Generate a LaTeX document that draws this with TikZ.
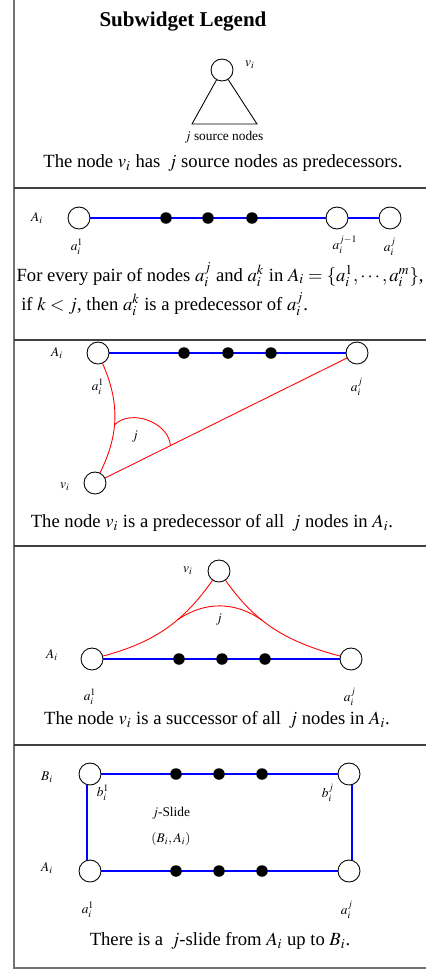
\documentclass[tikz,border=0pt]{standalone}
\usepackage{mathptmx}
\usepackage[no-math]{fontspec}
\setmainfont{Liberation Serif}
\tikzset{
  every picture/.style={x=0.02cm, y=0.02cm},
  vtx/.style={circle, draw, fill=white, line width=0.5pt, minimum size=0.44cm, inner sep=0pt},
  blackdot/.style={circle, fill=black, minimum size=0.23cm, inner sep=0pt},
  bluelink/.style={draw=blue, line width=1.1pt},
  predlink/.style={draw=red, line width=0.5pt},
  lbl/.style={font=\fontsize{7.6}{9}\selectfont, inner sep=1pt},
  caption/.style={font=\fontsize{10.6}{12.7}\selectfont, inner sep=1pt},
  sepline/.style={draw=black!75, line width=0.6pt},
}
\begin{document}
\begin{tikzpicture}
  \useasboundingbox (0,0) rectangle (426,-970);
  % frame
  \draw[sepline, draw=black!55] (14,0) -- (14,-968) -- (426,-968);
  \foreach \y in {188,340,546,745} \draw[sepline] (14,-\y) -- (426,-\y);
  % legend: source nodes
  \node[font=\large\bfseries] (title) at (183,-22) {Subwidget Legend};
  \node[vtx] (v0) at (222,-70) {};
  \node[lbl] (v0lbl) at (250,-65) {$v_i$};
  \coordinate (tl) at (192,-124); \coordinate (tr) at (257,-124);
  \draw[line width=0.5pt] (v0) -- (tl) -- (tr) -- (v0);
  \node[lbl] (src) at (224,-137) {$j$ source nodes};
  \node[caption] (cap1) at (223,-163) {The node $v_i$ has \,$j$ source nodes as predecessors.};
  % chain A_i
  \node[lbl] (A1) at (37,-218) {$A_i$};
  \node[vtx] (a1) at (79,-218) {};
  \node[vtx] (ajm) at (337,-218) {};
  \node[vtx] (aj) at (390,-218) {};
  \draw[bluelink] (a1) -- (ajm); \draw[bluelink] (ajm) -- (aj);
  \foreach \x in {166,208,252} \node[blackdot] (d\x) at (\x,-218) {};
  \node[lbl] (a1lbl) at (77,-247) {$a_i^1$};
  \node[lbl] (ajmlbl) at (345,-245) {$a_i^{j-1}$};
  \node[lbl] (ajlbl) at (390,-247) {$a_i^j$};
  \node[caption, anchor=west, align=left] (cap2) at (14.5,-289.5)
    {For every pair of nodes $a_i^j$ and $a_i^k$ in $A_i=\{a_i^1,\cdots,a_i^m\}$,\\[2pt]
     \ if $k<j$, then $a_i^k$ is a predecessor of $a_i^j$.};
  % v_i before A_i
  \node[lbl] (A2) at (57,-353) {$A_i$};
  \node[vtx] (b1) at (98,-353) {};
  \node[vtx] (bj) at (357,-353) {};
  \draw[bluelink] (b1) -- (bj);
  \foreach \x in {184,228,271} \node[blackdot] (e\x) at (\x,-353) {};
  \node[lbl] (b1lbl) at (98,-387) {$a_i^1$};
  \node[lbl] (bjlbl) at (357,-387) {$a_i^j$};
  \node[vtx] (v1) at (95,-483) {};
  \node[lbl] (v1lbl) at (65,-487) {$v_i$};
  \draw[predlink] (b1) to[bend left=25] coordinate[pos=0.56] (p1) (v1);
  \draw[predlink] (v1) -- coordinate[pos=0.27] (q1) (bj);
  \draw[predlink] (p1) to[bend left=65] (q1);
  \node[lbl] (j1) at (135,-437) {$j$};
  \node[caption] (cap3) at (212,-523) {The node $v_i$ is a predecessor of all \,$j$ nodes in $A_i$.};
  % v_i after A_i
  \node[vtx] (v2) at (219,-571) {};
  \node[lbl] (v2lbl) at (188,-571) {$v_i$};
  \node[lbl] (A3) at (52,-655) {$A_i$};
  \node[vtx] (c1) at (92,-659) {};
  \node[vtx] (cj) at (351,-659) {};
  \draw[bluelink] (c1) -- (cj);
  \foreach \x in {179,222,265} \node[blackdot] (f\x) at (\x,-659) {};
  \node[lbl] (c1lbl) at (90,-697) {$a_i^1$};
  \node[lbl] (cjlbl) at (350,-697) {$a_i^j$};
  \draw[predlink] (c1) to[out=15, in=235] coordinate[pos=0.62] (p2) (v2);
  \draw[predlink] (cj) to[out=165, in=-55] coordinate[pos=0.62] (q2) (v2);
  \draw[predlink] (p2) to[bend left=35] (q2);
  \node[lbl] (j2) at (219,-620) {$j$};
  \node[caption] (cap4) at (217,-720) {The node $v_i$ is a successor of all \,$j$ nodes in $A_i$.};
  % j-slide
  \node[lbl] (B4) at (47,-777) {$B_i$};
  \node[vtx] (s1) at (90,-774) {};
  \node[vtx] (sj) at (349,-774) {};
  \node[lbl] (A4) at (47,-868) {$A_i$};
  \node[vtx] (t1) at (90,-871) {};
  \node[vtx] (tj) at (349,-871) {};
  \draw[bluelink] (s1) -- (sj); \draw[bluelink] (t1) -- (tj);
  \draw[bluelink] (s1.254) -- (t1.106); \draw[bluelink] (sj.-74) -- (tj.74);
  \foreach \x in {176,219,262} {
    \node[blackdot] (g\x) at (\x,-774) {};
    \node[blackdot] (h\x) at (\x,-871) {};
  }
  \node[lbl] (s1lbl) at (103,-793) {$b_i^1$};
  \node[lbl] (sjlbl) at (328,-793) {$b_i^j$};
  \node[lbl] (t1lbl) at (88,-910) {$a_i^1$};
  \node[lbl] (tjlbl) at (347,-910) {$a_i^j$};
  \node[lbl] (slide) at (171,-813) {$j$-Slide};
  \node[lbl] (pair) at (171,-839) {$(B_i,A_i)$};
  \node[caption] (cap5) at (220,-941) {There is a \,$j$-slide from $A_i$ up to $B_i$.};
\end{tikzpicture}
\end{document}
